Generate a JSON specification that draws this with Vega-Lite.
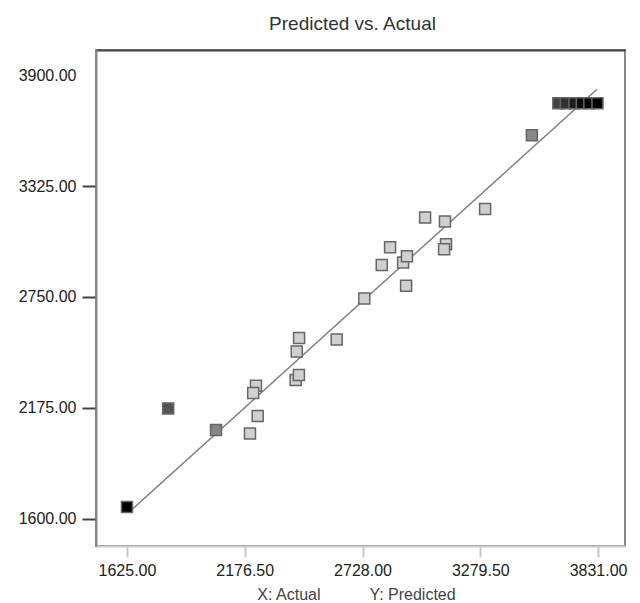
{
  "$schema": "https://vega.github.io/schema/vega-lite/v6.json",
  "width": 529,
  "height": 496,
  "autosize": {"type": "none"},
  "padding": {"left": 96, "top": 50, "right": 15, "bottom": 57},
  "background": "white",
  "config": {
    "view": {"stroke": "#888", "strokeWidth": 2},
    "font": "Liberation Sans"
  },
  "title": {
    "text": "Predicted vs. Actual",
    "fontSize": 19,
    "fontWeight": "normal",
    "color": "#333",
    "font": "Liberation Sans",
    "anchor": "middle",
    "dx": -8,
    "offset": 16
  },
  "datasets": {
    "points": [
      {"actual": 1625, "predicted": 1661},
      {"actual": 1818, "predicted": 2172},
      {"actual": 2042, "predicted": 2060},
      {"actual": 2201, "predicted": 2042},
      {"actual": 2237, "predicted": 2133},
      {"actual": 2229, "predicted": 2290},
      {"actual": 2216, "predicted": 2252},
      {"actual": 2415, "predicted": 2320},
      {"actual": 2430, "predicted": 2345},
      {"actual": 2431, "predicted": 2537},
      {"actual": 2420, "predicted": 2467},
      {"actual": 2607, "predicted": 2529},
      {"actual": 2736, "predicted": 2742},
      {"actual": 2818, "predicted": 2915},
      {"actual": 2857, "predicted": 3007},
      {"actual": 2918, "predicted": 2929},
      {"actual": 2936, "predicted": 2961},
      {"actual": 2932, "predicted": 2808},
      {"actual": 3021, "predicted": 3162},
      {"actual": 3114, "predicted": 3141},
      {"actual": 3119, "predicted": 3023},
      {"actual": 3110, "predicted": 2997},
      {"actual": 3302, "predicted": 3206},
      {"actual": 3521, "predicted": 3588},
      {"actual": 3645, "predicted": 3754},
      {"actual": 3680, "predicted": 3754},
      {"actual": 3720, "predicted": 3754},
      {"actual": 3755, "predicted": 3754},
      {"actual": 3790, "predicted": 3754},
      {"actual": 3828, "predicted": 3754}
    ],
    "fit": [
      {"actual": 1640, "predicted": 1640},
      {"actual": 3825, "predicted": 3825}
    ]
  },
  "layer": [
    {
      "data": {"name": "fit"},
      "mark": {"type": "line", "color": "#808080", "strokeWidth": 1.5},
      "encoding": {
        "x": {
          "field": "actual",
          "type": "quantitative",
          "scale": {"domain": [1480, 3957], "nice": false, "zero": false},
          "axis": {
            "orient": "top",
            "labels": false,
            "ticks": false,
            "grid": false,
            "title": null,
            "domainColor": "#444",
            "domainWidth": 2
          }
        },
        "y": {
          "field": "predicted",
          "type": "quantitative",
          "scale": {"domain": [1459, 4030], "nice": false, "zero": false},
          "axis": {
            "values": [1600, 2175, 2750, 3325, 3900],
            "format": ".2f",
            "grid": false,
            "title": null,
            "domainColor": "#888",
            "domainWidth": 2,
            "tickColor": {"condition": {"test": "datum.value == 3900", "value": "transparent"}, "value": "#444"},
            "tickWidth": 2,
            "tickSize": 14,
            "labelPadding": 6,
            "labelFontSize": 16,
            "labelColor": "#222",
            "labelFont": "Liberation Sans"
          }
        }
      }
    },
    {
      "data": {"name": "points"},
      "mark": {"type": "square", "size": 121, "filled": true, "opacity": 1, "stroke": "#666", "strokeWidth": 1.5},
      "encoding": {
        "x": {
          "field": "actual",
          "type": "quantitative",
          "scale": {"domain": [1480, 3957], "nice": false, "zero": false},
          "axis": {
            "values": [1625, 2176.5, 2728, 3279.5, 3831],
            "format": ".2f",
            "grid": false,
            "domainColor": "#cccccc",
            "domainWidth": 2,
            "tickColor": "#c8c8c8",
            "tickWidth": 2,
            "tickSize": 11,
            "labelPadding": 5,
            "labelFontSize": 16,
            "labelColor": "#222",
            "labelFont": "Liberation Sans",
            "title": "X: Actual\u00a0\u00a0\u00a0\u00a0\u00a0\u00a0\u00a0\u00a0\u00a0\u00a0\u00a0Y: Predicted",
            "titleFont": "Liberation Sans",
            "titleFontSize": 16,
            "titleFontWeight": "normal",
            "titleColor": "#444",
            "titleX": 260,
            "titleY": 48,
            "titleAlign": "center",
            "titleBaseline": "middle"
          }
        },
        "y": {
          "field": "predicted",
          "type": "quantitative"
        },
        "color": {
          "field": "actual",
          "type": "quantitative",
          "legend": null,
          "scale": {
            "domain": [1625, 1820, 2050, 2200, 3300, 3520, 3650],
            "range": ["#000000", "#555555", "#888888", "#d0d0d0", "#d0d0d0", "#888888", "#404040"]
          }
        }
      }
    }
  ],
  "resolve": {"axis": {"x": "independent"}}
}
